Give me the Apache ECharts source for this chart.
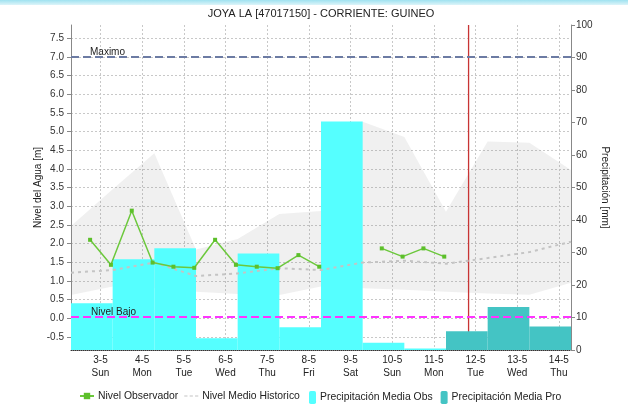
<!DOCTYPE html>
<html><head><meta charset="utf-8">
<script src="https://cdn.jsdelivr.net/npm/echarts@6/dist/echarts.min.js"></script>
<style>html,body{margin:0;padding:0;background:#fff}#c{width:628px;height:411px}</style>
</head><body><div id="c"></div>
<script>
// ---- data ----
const dayLabels = ['3-5','4-5','5-5','6-5','7-5','8-5','9-5','10-5','11-5','12-5','13-5','14-5'];
const weekDays  = ['Sun','Mon','Tue','Wed','Thu','Fri','Sat','Sun','Mon','Tue','Wed','Thu'];
const labelTimes = ['03-05 00:00','04-05 00:00','05-05 00:00','06-05 00:00','07-05 00:00','08-05 00:00',
                    '09-05 00:00','10-05 00:00','11-05 00:00','12-05 00:00','13-05 00:00','14-05 00:00'];
const axisRange = ['02-05 07:00','14-05 07:00'];

const precipObs = [14.4, 27.9, 31.3, 3.6, 29.7, 7.0, 70.3, 2.2, 0.5, null, null, null];
const precipPro = [null, null, null, null, null, null, null, null, null, 5.8, 13.2, 7.2];

const obsTimes = ['02-05 18:00','03-05 06:00','03-05 18:00','04-05 06:00','04-05 18:00','05-05 06:00',
                  '05-05 18:00','06-05 06:00','06-05 18:00','07-05 06:00','07-05 18:00','08-05 06:00',
                  '09-05 06:00',
                  '09-05 18:00','10-05 06:00','10-05 18:00','11-05 06:00'];
const obsLevel = [2.10, 1.43, 2.88, 1.49, 1.38, 1.35, 2.10, 1.43, 1.38, 1.34, 1.69, 1.38,
                  null,
                  1.87, 1.65, 1.87, 1.65];

const histTimes = ['02-05 07:00','03-05 07:00','04-05 07:00','05-05 07:00','06-05 07:00','07-05 07:00',
                   '08-05 07:00','09-05 07:00','10-05 07:00','11-05 07:00','12-05 07:00','13-05 07:00','14-05 07:00'];
const histMax  = [2.47, 3.45, 4.42, 1.84, 2.12, 2.79, 2.87, 5.26, 4.85, 2.85, 4.73, 4.70, 3.97];
const histMin  = [0.62, 0.85, 0.80, 0.71, 0.65, 0.62, 0.85, 0.80, 0.76, 0.71, 0.66, 0.63, 0.95];
const histMean = [1.22, 1.29, 1.49, 1.13, 1.20, 1.34, 1.29, 1.49, 1.54, 1.46, 1.61, 1.77, 2.05];

const levelTicks = [-0.5, 0.0, 0.5, 1.0, 1.5, 2.0, 2.5, 3.0, 3.5, 4.0, 4.5, 5.0, 5.5, 6.0, 6.5, 7.0, 7.5];
const levelRange = [-0.85, 7.85];
const precipRange = [0, 100];
const nivelMaximo = 7.0;
const nivelBajo = 0.04;
const nowTime = '11-05 20:00';

// ---- helpers ----
function toHours(s) {
  const d = +s.slice(0, 2), h = +s.slice(6, 8), m = +s.slice(9, 11);
  return (d - 3) * 24 + h + m / 60;
}
const labelHours = labelTimes.map(toHours);
const FONT = '"Liberation Sans", Arial, sans-serif';
const dashIcon = 'path://M0,0h3v1h-3zM5,0h3v1h-3zM10,0h3v1h-3z';

const chart = echarts.init(document.getElementById('c'), null, {renderer: 'canvas'});
const option = {
  animation: false,
  textStyle: {fontFamily: FONT},
  graphic: [
    {type: 'rect', shape: {x: 0, y: 0, width: 628, height: 5},
     style: {fill: new echarts.graphic.LinearGradient(0, 0, 0, 1, [
       {offset: 0, color: '#9FE2F0'}, {offset: 1, color: '#DDF4F9'}])}},
    {type: 'text', x: 321, y: 14,
     style: {text: 'JOYA LA [47017150] - CORRIENTE: GUINEO', font: '11px ' + FONT,
             align: 'center', verticalAlign: 'middle', fill: '#222'}}
  ],
  grid: {left: 71, right: 57, top: 25, bottom: 61, containLabel: false},
  legend: [
    {left: 79, top: 391, padding: 0, itemWidth: 14, itemHeight: 8, itemGap: 6,
     textStyle: {fontSize: 10.4, color: '#222', fontFamily: FONT, padding: [0, 0, 0, -1]},
     data: ['Nivel Observador', {name: 'Nivel Medio Historico', icon: dashIcon, itemStyle: {color: '#C4C4C4'}}]},
    {left: 309, top: 391, padding: 0, itemWidth: 7, itemHeight: 13, itemGap: 8,
     textStyle: {fontSize: 10.4, color: '#222', fontFamily: FONT, padding: [0, 0, 0, -1]},
     data: ['Precipitación Media Obs', 'Precipitación Media Pro']}
  ],
  xAxis: [
    {type: 'value', min: toHours(axisRange[0]), max: toHours(axisRange[1]),
     axisLine: {show: true, onZero: false, lineStyle: {color: '#333', type: [1, 1]}},
     axisTick: {show: false, customValues: labelHours},
     axisLabel: {customValues: labelHours, margin: 4, fontSize: 10, color: '#222', lineHeight: 12.5,
                 formatter: v => { const i = labelHours.indexOf(v); return i < 0 ? '' : dayLabels[i] + '\n' + weekDays[i]; }},
     splitLine: {show: true, lineStyle: {color: '#C8C8C8', type: [2, 2]}}},
    {type: 'category', data: dayLabels, show: false, boundaryGap: true}
  ],
  yAxis: [
    {type: 'value', min: levelRange[0], max: levelRange[1], position: 'left',
     name: 'Nivel del Agua [m]', nameLocation: 'middle', nameGap: 28, nameRotate: 90, nameMoveOverlap: false,
     nameTextStyle: {fontSize: 10, color: '#222'},
     axisLine: {show: true, onZero: false, lineStyle: {color: '#888'}},
     axisTick: {show: true, customValues: levelTicks, length: 4, lineStyle: {color: '#888'}},
     axisLabel: {customValues: levelTicks, margin: 7, fontSize: 10, color: '#333', formatter: v => v.toFixed(1)},
     splitLine: {show: true, lineStyle: {color: '#C8C8C8', type: [2, 2]}}},
    {type: 'value', min: precipRange[0], max: precipRange[1], interval: 10, position: 'right',
     name: 'Precipitación [mm]', nameLocation: 'middle', nameGap: 29, nameRotate: -90, nameMoveOverlap: false,
     nameTextStyle: {fontSize: 10, color: '#222'},
     axisLine: {show: true, onZero: false, lineStyle: {color: '#888'}},
     axisTick: {show: true, length: 4, lineStyle: {color: '#888'}},
     axisLabel: {margin: 5, fontSize: 10, color: '#333'},
     splitLine: {show: false}}
  ],
  series: [
    {name: 'Precipitación Media Obs', type: 'bar', xAxisIndex: 1, yAxisIndex: 1,
     barCategoryGap: '0%', barGap: '-100%', data: precipObs, itemStyle: {color: '#55FFFF'}},
    {name: 'Precipitación Media Pro', type: 'bar', xAxisIndex: 1, yAxisIndex: 1,
     barCategoryGap: '0%', barGap: '-100%', data: precipPro, itemStyle: {color: '#44C4C4'}},
    {name: 'band', type: 'custom', xAxisIndex: 0, yAxisIndex: 0, silent: true,
     data: [[toHours(histTimes[0]), histMin[0]]],
     renderItem: function (params, api) {
       const pts = [];
       for (let i = 0; i < histTimes.length; i++) pts.push(api.coord([toHours(histTimes[i]), histMax[i]]));
       for (let i = histTimes.length - 1; i >= 0; i--) pts.push(api.coord([toHours(histTimes[i]), histMin[i]]));
       return {type: 'polygon', shape: {points: pts}, style: {fill: 'rgba(128,128,128,0.12)'}};
     }},
    {name: 'Nivel Medio Historico', type: 'line', xAxisIndex: 0, yAxisIndex: 0, symbol: 'none',
     data: histTimes.map((t, i) => [toHours(t), histMean[i]]),
     itemStyle: {color: '#C4C4C4'},
     lineStyle: {color: '#C4C4C4', width: 2, type: [3, 4]},
     markLine: {silent: true, symbol: 'none', animation: false,
       data: [
         {yAxis: nivelMaximo, lineStyle: {color: '#6C7BA3', width: 2, type: [8, 4]},
          label: {show: true, formatter: 'Maximo', position: 'insideStartTop', distance: [19, 0],
                  fontSize: 10, color: '#222', fontFamily: FONT}},
         {yAxis: nivelBajo, lineStyle: {color: '#FF33FF', width: 2, type: [8, 4]},
          label: {show: true, formatter: 'Nivel Bajo', position: 'insideStartTop', distance: [20, 0],
                  fontSize: 10, color: '#222', fontFamily: FONT}}
       ]}},
    {name: 'now', type: 'custom', xAxisIndex: 0, yAxisIndex: 0, silent: true,
     data: [[toHours(nowTime), levelRange[0]]],
     renderItem: function (params, api) {
       const t = api.value(0);
       const p0 = api.coord([t, levelRange[0]]), p1 = api.coord([t, levelRange[1]]);
       return {type: 'line', shape: {x1: p0[0], y1: p0[1], x2: p1[0], y2: p1[1]},
               style: {stroke: '#C83434', lineWidth: 1.3}};
     }},
    {name: 'Nivel Observador', type: 'line', xAxisIndex: 0, yAxisIndex: 0,
     symbol: 'rect', symbolSize: 4, connectNulls: false,
     data: obsTimes.map((t, i) => [toHours(t), obsLevel[i] === null ? '-' : obsLevel[i]]),
     itemStyle: {color: '#5CBF2A'},
     lineStyle: {color: '#6CC83C', width: 1.5}}
  ]
};
chart.setOption(option);
</script>
</body></html>
